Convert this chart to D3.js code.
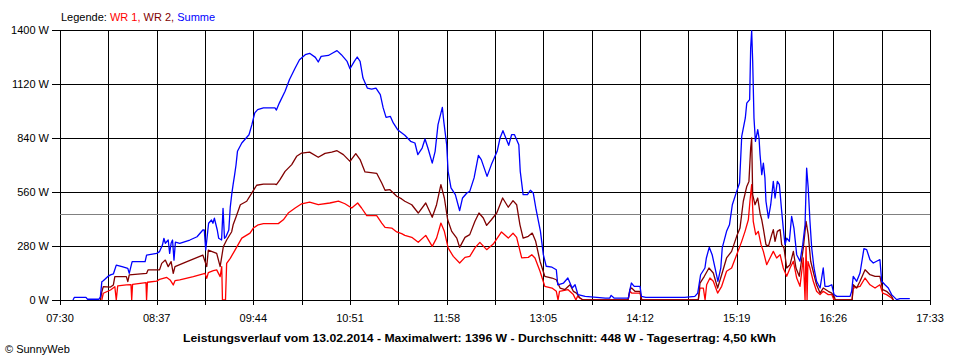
<!DOCTYPE html>
<html>
<head>
<meta charset="utf-8">
<script src="https://cdn.jsdelivr.net/npm/d3@7"></script>
<style>
  html, body { margin: 0; padding: 0; background: #fff; }
  svg { display: block; }
  text { font-family: "Liberation Sans", Arial, sans-serif; font-size: 11px; fill: #000; }
</style>
</head>
<body>
<svg id="chart" width="960" height="360"></svg>
<script>
// ---------------- DATA ----------------
const yTicks = [0, 280, 560, 840, 1120, 1400];
const xTickLabels = ["07:30","08:37","09:44","10:51","11:58","13:05","14:12","15:19","16:26","17:33"];
const average = 448;
const seriesNames = ["WR 1", "WR 2", "Summe"];
const titleText = "Leistungsverlauf vom 13.02.2014 - Maximalwert: 1396 W - Durchschnitt: 448 W - Tagesertrag: 4,50 kWh";

const timesWR1 = ["07:59","08:00","08:05","08:08","08:09","08:10","08:16","08:19:12","08:19:42","08:20:18","08:29:36","08:30","08:30:36","08:37","08:39","08:44","08:46:18","08:48:30","08:49:42","08:53","09:02:24","09:10:30","09:11:42","09:12:48","09:16:18","09:18:36","09:21","09:22:06","09:22:36","09:24:42","09:25:30","09:28","09:31","09:36","09:41:42","09:44","09:47:24","09:51","10:01:18","10:04:48","10:08:12","10:13","10:17:30","10:23","10:29","10:37","10:43","10:47:30","10:52:12","10:56:18","10:59","11:02:36","11:09:30","11:13","11:15:18","11:19:54","11:23:24","11:26:48","11:29","11:33:48","11:38:18","11:43:30","11:48","11:51","11:54","11:56:24","11:59","12:02:36","12:07","12:10:42","12:14","12:17:36","12:21","12:25:42","12:30:18","12:36","12:40:42","12:44","12:46:30","12:50","12:54:36","12:57","12:59:12","13:02:42","13:06","13:11","13:14","13:15:12","13:16:12","13:22","13:25:48","13:27:36","13:28:42","13:30:24","13:32:30","14:03:42","14:05","14:06:12","14:12","14:13:12","14:52:24","14:53:36","14:55:54","14:57:06","14:58:12","15:00:30","15:02:48","15:05:48","15:08:36","15:12","15:15:30","15:19","15:22:30","15:24:48","15:27:06","15:28:12","15:29:24","15:30:30","15:32:12","15:34","15:35:54","15:37:30","15:39:48","15:42:06","15:44:24","15:46:42","15:49:06","15:51:18","15:53:42","15:56","15:58:18","16:00:36","16:02:54","16:05:12","16:06:24","16:07:06","16:07:48","16:08:24","16:09:48","16:12:06","16:14:24","16:16:48","16:19","16:22:30","16:24:54","16:26:30","16:39","16:39:48","16:44:30","16:48","16:51:24","16:54:54","16:58:18","17:00:12","17:02:54","17:06:24","17:07:36"];
const wr1 = [0,35,52,69,0,73,78,80,0,81,90,0,92,98,107,117,104,78,100,104,121,138,112,142,152,156,121,173,0,0,190,216,255,321,347,373,390,396,396,416,451,477,499,508,494,503,513,499,477,503,477,437,437,399,377,373,353,344,335,325,299,335,278,321,399,356,270,226,192,221,226,270,299,261,290,353,321,346,325,218,221,235,218,149,71,62,45,0,45,54,28,0,20,10,0,0,45,36,36,0,0,62,62,0,79,114,97,36,71,149,166,235,304,356,416,512,598,408,339,356,287,252,183,218,252,218,235,166,123,166,201,114,71,218,0,278,0,200,166,97,45,28,45,28,28,0,0,62,71,114,79,62,79,36,28,10,0];

const timesWR2 = ["07:58","07:59","08:00","08:05","08:07","08:08","08:16","08:17","08:18","08:30","08:31","08:39","08:40:30","08:43","08:45","08:47","08:48:30","08:49:42","08:58","09:09","09:11:42","09:12:48","09:18:36","09:21","09:23:12","09:25:30","09:29","09:30","09:32","09:35","09:39:24","09:43","09:46:18","09:51","09:59","10:00","10:02:30","10:06","10:10:36","10:14","10:17:30","10:23","10:29","10:33:42","10:38:18","10:42","10:46:24","10:51","10:55","10:58","11:01:24","11:09:30","11:13","11:15:18","11:18:42","11:23:24","11:26:48","11:29","11:33:48","11:38:18","11:43:30","11:48","11:51","11:54","11:56:24","11:58:42","12:01:30","12:05","12:07","12:10:42","12:14","12:17:36","12:20:24","12:23:24","12:25:42","12:29","12:32:42","12:36:48","12:40:42","12:44","12:46:30","12:48:48","12:51","12:54:36","12:57:18","12:59:42","13:02:42","13:06","13:11","13:14","13:16:36","13:20","13:23:30","13:25:48","13:28","13:30:24","13:32:30","14:03:42","14:05","14:06:12","14:08:30","14:12","14:13:12","14:52:24","14:53:36","14:56:36","14:59:48","15:02:48","15:05:48","15:08:36","15:12","15:15:30","15:19","15:21:18","15:23:36","15:26","15:27:30","15:28:42","15:29:24","15:30:06","15:31:42","15:33:36","15:35:12","15:36:24","15:37:30","15:39:18","15:41","15:43:18","15:44:24","15:45:36","15:47:12","15:49:06","15:50:12","15:51:48","15:53:42","15:56","15:58:18","16:00:06","16:02:24","16:05:12","16:07:06","16:08:36","16:10:18","16:12:36","16:14:24","16:16:48","16:19","16:22:30","16:24:54","16:26:30","16:27:24","16:39","16:39:48","16:42:12","16:44:30","16:48","16:51:24","16:54:54","16:58:18","17:00:12","17:02:54","17:06:24","17:07:36"];
const wr2 = [0,43,69,67,78,121,121,95,130,138,156,156,190,207,173,199,138,173,199,233,173,259,242,173,276,311,354,390,430,494,512,555,595,601,601,598,624,667,702,745,762,767,740,760,767,774,754,719,759,728,664,657,607,569,572,538,524,512,494,451,503,429,494,598,529,416,356,321,273,325,339,408,451,425,387,416,451,529,481,515,494,390,321,330,347,304,201,123,114,105,62,54,79,45,36,10,0,0,54,62,45,45,0,0,88,123,166,140,62,131,218,252,330,373,512,589,615,788,840,546,494,529,450,416,370,287,278,339,365,304,356,365,287,270,166,183,252,166,123,270,408,339,201,131,79,36,62,45,36,19,0,0,79,62,97,157,131,123,123,54,45,19,0];

const timesSumme = ["07:39","07:40","07:48","07:49","07:57","07:58","07:59","08:00","08:03","08:05","08:07","08:09","08:13","08:17","08:18","08:20","08:29","08:30","08:37","08:39","08:41","08:42","08:43","08:45","08:46","08:47","08:48","08:49","08:50","08:53","09:00","09:05","09:09","09:10","09:11","09:13","09:15","09:16","09:17","09:19","09:20","09:22","09:23","09:24","09:25","09:27","09:28","09:29","09:30","09:31","09:32","09:33","09:36","09:41","09:43","09:45","09:47","09:51","09:59","10:00","10:02","10:06","10:09","10:13","10:16","10:20","10:23","10:27","10:29","10:31","10:36","10:39","10:42","10:45","10:49","10:51","10:54","10:56","10:58","11:00","11:03","11:06","11:09","11:12","11:14","11:16","11:19","11:21","11:24","11:29","11:33","11:36","11:38","11:41","11:43","11:45","11:48","11:50","11:52","11:55","11:56","11:58","11:59","12:01","12:04","12:07","12:09","12:12","12:14","12:17","12:20","12:22","12:26","12:29","12:33","12:35","12:37","12:41","12:43","12:45","12:48","12:49","12:51","12:54","12:56","12:58","13:00","13:03","13:05","13:07","13:11","13:14","13:15","13:19","13:22","13:25","13:27","13:29","13:34","13:48","13:51","13:52","13:54","14:04","14:05","14:06","14:08","14:12","14:13","14:16","14:43","14:50","14:52","14:54","14:57","14:58","15:00","15:02","15:04","15:06","15:08","15:09","15:12","15:14","15:16","15:19","15:21","15:22:30","15:25","15:26","15:28","15:28:42","15:29:24","15:30:06","15:31","15:32","15:33:36","15:34:30","15:35:12","15:36:24","15:37:30","15:38:36","15:39:18","15:41","15:42:36","15:44:24","15:45:36","15:47:12","15:48:36","15:50:12","15:51:18","15:52:30","15:53:42","15:55:30","15:57:06","15:58:42","16:00:36","16:02:54","16:04:48","16:06:24","16:07:30","16:08:36","16:09:48","16:11","16:12:36","16:14:24","16:16:48","16:19","16:20:12","16:22:30","16:24:54","16:26:30","16:28:18","16:37:36","16:38:42","16:39:48","16:42:12","16:44:30","16:47:12","16:49:06","16:51:24","16:53:42","16:56","16:58:18","16:59:30","17:01:48","17:04:06","17:06:24","17:09:54","17:12:12","17:19"];
const summe = [0,14,14,4,4,17,95,100,121,130,135,181,173,164,138,199,199,233,242,251,285,320,294,311,242,294,311,207,300,294,311,328,363,363,259,398,415,398,424,363,320,311,475,320,328,363,480,546,600,648,700,771,814,857,909,970,987,996,996,985,1021,1082,1142,1203,1246,1272,1279,1258,1234,1263,1268,1281,1293,1272,1237,1199,1237,1260,1237,1151,1099,1094,1099,1065,996,947,952,918,883,854,823,814,754,788,835,788,710,771,909,999,926,805,667,581,546,463,529,555,563,633,750,728,641,702,771,840,878,802,857,857,805,667,546,546,569,555,468,356,235,175,170,157,79,88,114,62,79,28,19,10,10,24,10,10,54,88,71,71,19,14,14,19,36,131,166,218,273,235,166,97,166,270,356,390,494,563,607,849,944,1021,1039,1307,1396,1238,944,823,883,840,754,650,710,633,512,425,494,615,529,615,598,460,373,287,321,304,434,373,235,201,287,390,684,581,408,270,166,97,62,166,71,71,79,28,19,19,45,123,97,140,266,261,209,192,201,209,97,79,62,28,2,7,7];

// ---------------- CHART ----------------
const W = 960, H = 360;
const plot = { left: 60, right: 930, top: 30, bottom: 300 };
const toMin = t => { const p = t.split(":").map(Number); return p[0] * 60 + p[1] + (p[2] || 0) / 60; };

const tStart = toMin(xTickLabels[0]), tEnd = toMin(xTickLabels[xTickLabels.length - 1]);
const x = d3.scaleLinear().domain([tStart, tEnd]).range([plot.left, plot.right]);
const y = d3.scaleLinear().domain([0, d3.max(yTicks)]).range([plot.bottom, plot.top]);

const svg = d3.select("#chart");
svg.append("rect").attr("width", W).attr("height", H).attr("fill", "#fff");

// grid times: labelled ticks plus midpoints
const labelMins = xTickLabels.map(toMin);
const gridMins = [];
labelMins.forEach((m, i) => {
  gridMins.push(m);
  if (i < labelMins.length - 1) gridMins.push((m + labelMins[i + 1]) / 2);
});

const px = v => Math.round(v) + 0.5;
const grid = svg.append("g").attr("shape-rendering", "crispEdges");

// horizontal gridlines + left ticks
grid.selectAll("line.h").data(yTicks).join("line")
  .attr("x1", plot.left - 8).attr("x2", plot.right)
  .attr("y1", d => px(y(d))).attr("y2", d => px(y(d)))
  .attr("stroke", "#000").attr("stroke-width", 1);

// vertical gridlines + bottom ticks
grid.selectAll("line.v").data(gridMins).join("line")
  .attr("x1", d => px(x(d))).attr("x2", d => px(x(d)))
  .attr("y1", plot.top).attr("y2", plot.bottom + 5)
  .attr("stroke", "#000").attr("stroke-width", 1);

// average line
svg.append("line")
  .attr("shape-rendering", "crispEdges")
  .attr("x1", plot.left).attr("x2", plot.right)
  .attr("y1", px(y(average))).attr("y2", px(y(average)))
  .attr("stroke", "#808080").attr("stroke-width", 1);

// series
const series = [
  { name: seriesNames[0], times: timesWR1, values: wr1, color: "#ff0000" },
  { name: seriesNames[1], times: timesWR2, values: wr2, color: "#800000" },
  { name: seriesNames[2], times: timesSumme, values: summe, color: "#0000ff" }
];
const line = d3.line().x(d => x(d[0])).y(d => y(d[1]));
series.forEach(s => {
  const pts = s.times.map((t, i) => [toMin(t), s.values[i]]);
  svg.append("path")
    .attr("d", line(pts))
    .attr("fill", "none")
    .attr("stroke", s.color)
    .attr("stroke-width", 1.3)
    .attr("stroke-linejoin", "round");
});

// redraw bottom axis line on top
svg.append("line")
  .attr("shape-rendering", "crispEdges")
  .attr("x1", plot.left - 8).attr("x2", plot.right)
  .attr("y1", px(y(0))).attr("y2", px(y(0)))
  .attr("stroke", "#000");

// y labels
svg.selectAll("text.ylab").data(yTicks).join("text")
  .attr("x", 49).attr("y", d => y(d) + 3.8)
  .attr("text-anchor", "end")
  .text(d => d + " W");

// x labels
svg.selectAll("text.xlab").data(xTickLabels).join("text")
  .attr("x", d => x(toMin(d))).attr("y", 322)
  .attr("text-anchor", "middle")
  .text(d => d);

// legend
const leg = svg.append("text").attr("x", 61).attr("y", 20.5);
leg.append("tspan").text("Legende: ");
leg.append("tspan").attr("fill", series[0].color).style("fill", series[0].color).text(series[0].name + ", ");
leg.append("tspan").attr("fill", series[1].color).style("fill", series[1].color).text(series[1].name + ", ");
leg.append("tspan").attr("fill", series[2].color).style("fill", series[2].color).text(series[2].name);

// title
svg.append("text")
  .attr("x", 183).attr("y", 341.5)
  .attr("font-weight", "bold")
  .style("font-weight", "bold")
  .attr("textLength", 593).attr("lengthAdjust", "spacingAndGlyphs")
  .text(titleText);

// copyright
svg.append("text").attr("x", 5).attr("y", 353).text("© SunnyWeb");
</script>
</body>
</html>
